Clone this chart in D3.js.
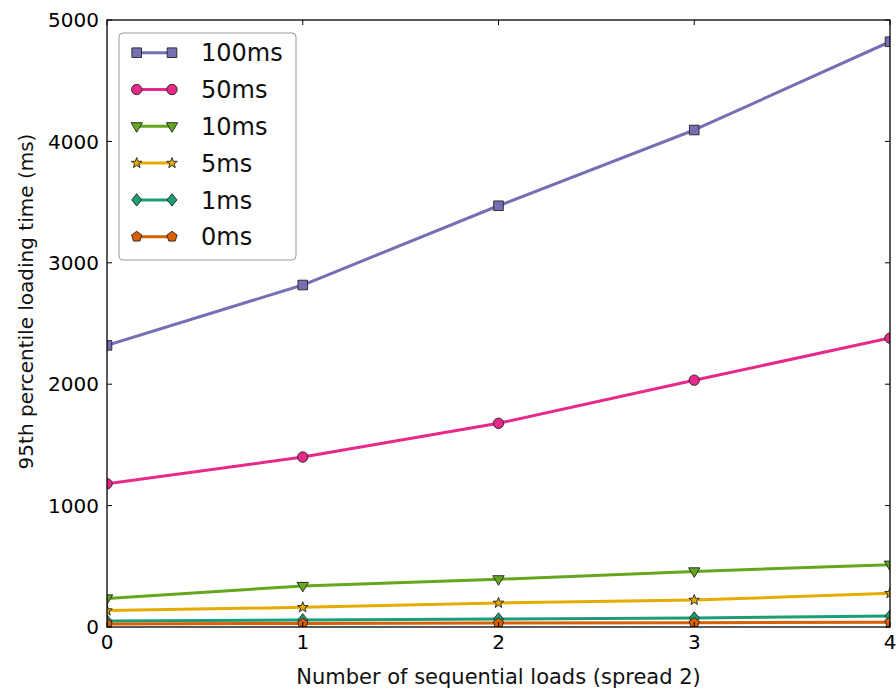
<!DOCTYPE html>
<html>
<head>
<meta charset="utf-8">
<script src="https://cdn.jsdelivr.net/npm/d3@7"></script>
<style>
  html, body { margin: 0; padding: 0; background: #fff; }
  svg { display: block; font-family: "DejaVu Sans", sans-serif; }
</style>
</head>
<body>
<svg id="chart" width="896" height="689"></svg>
<script>
// Sequential loads on the x axis
const loads = [0, 1, 2, 3, 4];
const xTicks = [0, 1, 2, 3, 4];
const yTicks = [0, 1000, 2000, 3000, 4000, 5000];

// 95th percentile loading time (ms) per injected delay
const s100ms = [2320, 2817, 3470, 4094, 4821];
const s50ms  = [1180, 1400, 1678, 2033, 2380];
const s10ms  = [235, 338, 393, 458, 513];
const s5ms   = [135, 162, 198, 222, 278];
const s1ms   = [50, 58, 66, 74, 90];
const s0ms   = [25, 29, 32, 34, 40];

const seriesNames = ["100ms", "50ms", "10ms", "5ms", "1ms", "0ms"];
const seriesValues = [s100ms, s50ms, s10ms, s5ms, s1ms, s0ms];
const seriesColors = ["#7570b3", "#e7298a", "#66a61e", "#e6ab02", "#1b9e77", "#d95f02"];
const seriesMarkers = ["square", "circle", "triangleDown", "star", "diamond", "pentagon"];

const margin = { left: 107, right: 6, top: 20, bottom: 62 };
const W = 896, H = 689;
const iw = W - margin.left - margin.right;
const ih = H - margin.top - margin.bottom;

const svg = d3.select("#chart");
const g = svg.append("g").attr("transform", `translate(${margin.left},${margin.top})`);

const x = d3.scaleLinear().domain([0, 4]).range([0, iw]);
const y = d3.scaleLinear().domain([0, 5000]).range([ih, 0]);

// marker shapes, centred on the origin
function markerPath(type) {
  const p = d3.path();
  if (type === "square") {
    const s = 4.8; p.rect(-s, -s, 2 * s, 2 * s);
  } else if (type === "circle") {
    p.arc(0, 0, 5.2, 0, 2 * Math.PI);
  } else if (type === "triangleDown") {
    const r = 6;
    p.moveTo(0, r);
    p.lineTo(-r * 0.95, -r * 0.6);
    p.lineTo(r * 0.95, -r * 0.6);
    p.closePath();
  } else if (type === "star") {
    const R = 5.6, r = 2.3;
    for (let i = 0; i < 10; i++) {
      const a = -Math.PI / 2 + i * Math.PI / 5;
      const rad = i % 2 === 0 ? R : r;
      const px = rad * Math.cos(a), py = rad * Math.sin(a);
      if (i === 0) p.moveTo(px, py); else p.lineTo(px, py);
    }
    p.closePath();
  } else if (type === "diamond") {
    const s = 6.2;
    p.moveTo(0, -s); p.lineTo(s * 0.8, 0); p.lineTo(0, s); p.lineTo(-s * 0.8, 0); p.closePath();
  } else if (type === "pentagon") {
    const R = 5.4;
    for (let i = 0; i < 5; i++) {
      const a = -Math.PI / 2 + i * 2 * Math.PI / 5;
      const px = R * Math.cos(a), py = R * Math.sin(a);
      if (i === 0) p.moveTo(px, py); else p.lineTo(px, py);
    }
    p.closePath();
  }
  return p.toString();
}

// clip data marks to the axes area
svg.append("defs").append("clipPath").attr("id", "plotClip")
  .append("rect").attr("x", 0).attr("y", 0).attr("width", iw).attr("height", ih);

const plot = g.append("g").attr("clip-path", "url(#plotClip)");
const line = d3.line().x((d, i) => x(loads[i])).y(d => y(d));

seriesValues.forEach((vals, k) => {
  const sg = plot.append("g");
  sg.append("path")
    .attr("d", line(vals))
    .attr("fill", "none")
    .attr("stroke", seriesColors[k])
    .attr("stroke-width", 3)
    .attr("stroke-linejoin", "round");
  sg.selectAll("path.mk").data(vals).join("path")
    .attr("class", "mk")
    .attr("d", markerPath(seriesMarkers[k]))
    .attr("transform", (d, i) => `translate(${x(loads[i])},${y(d)})`)
    .attr("fill", seriesColors[k])
    .attr("stroke", "#222")
    .attr("stroke-width", 0.9);
});

// axes frame with inward ticks on all four sides
const tickLen = 5;
const axes = g.append("g");
xTicks.forEach(t => {
  axes.append("line").attr("x1", x(t)).attr("x2", x(t)).attr("y1", ih).attr("y2", ih - tickLen)
    .attr("stroke", "#000").attr("stroke-width", 1);
  axes.append("line").attr("x1", x(t)).attr("x2", x(t)).attr("y1", 0).attr("y2", tickLen)
    .attr("stroke", "#000").attr("stroke-width", 1);
  axes.append("text").attr("x", x(t)).attr("y", ih + 22)
    .attr("text-anchor", "middle").attr("font-size", 20).attr("fill", "#000").text(t);
});
yTicks.forEach(t => {
  axes.append("line").attr("x1", 0).attr("x2", tickLen).attr("y1", y(t)).attr("y2", y(t))
    .attr("stroke", "#000").attr("stroke-width", 1);
  axes.append("line").attr("x1", iw).attr("x2", iw - tickLen).attr("y1", y(t)).attr("y2", y(t))
    .attr("stroke", "#000").attr("stroke-width", 1);
  axes.append("text").attr("x", -8).attr("y", y(t)).attr("dy", "0.36em")
    .attr("text-anchor", "end").attr("font-size", 20).attr("fill", "#000").text(t);
});
axes.append("rect").attr("x", 0).attr("y", 0).attr("width", iw).attr("height", ih)
  .attr("fill", "none").attr("stroke", "#000").attr("stroke-width", 1.3);

// axis titles
g.append("text").attr("x", iw / 2).attr("y", ih + 57)
  .attr("text-anchor", "middle").attr("font-size", 21).attr("fill", "#111")
  .text("Number of sequential loads (spread 2)");
g.append("text")
  .attr("transform", `translate(${-74},${ih / 2 - 22}) rotate(-90)`)
  .attr("text-anchor", "middle").attr("font-size", 20).attr("fill", "#111")
  .text("95th percentile loading time (ms)");

// legend
const lg = g.append("g").attr("transform", "translate(12,13)");
lg.append("rect").attr("x", 0).attr("y", 0).attr("width", 177).attr("height", 227)
  .attr("rx", 4).attr("ry", 4)
  .attr("fill", "#fff").attr("stroke", "#999").attr("stroke-width", 1);
seriesNames.forEach((name, k) => {
  const ry = 19.7 + k * 36.8;
  const row = lg.append("g").attr("transform", `translate(0,${ry})`);
  row.append("line").attr("x1", 17.7).attr("x2", 53).attr("y1", 0).attr("y2", 0)
    .attr("stroke", seriesColors[k]).attr("stroke-width", 3);
  [17.7, 53].forEach(mx => {
    row.append("path").attr("d", markerPath(seriesMarkers[k]))
      .attr("transform", `translate(${mx},0)`)
      .attr("fill", seriesColors[k]).attr("stroke", "#222").attr("stroke-width", 0.9);
  });
  row.append("text").attr("x", 82).attr("y", 0).attr("dy", "0.36em")
    .attr("font-size", 24).attr("fill", "#111").text(name);
});
</script>
</body>
</html>
